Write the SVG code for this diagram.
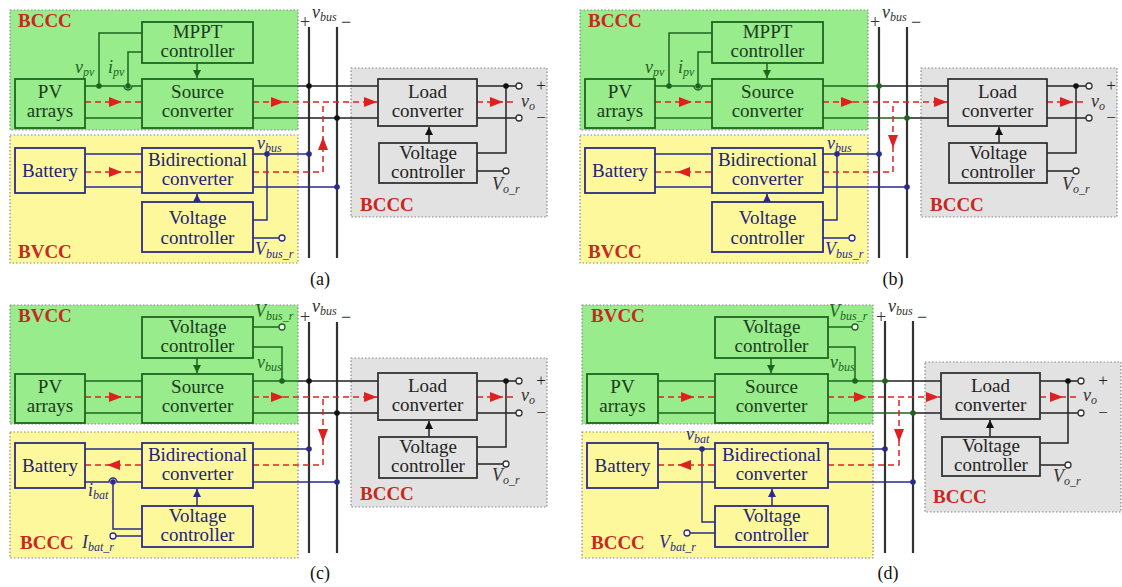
<svg xmlns="http://www.w3.org/2000/svg" xmlns:xlink="http://www.w3.org/1999/xlink" width="1122" height="587" viewBox="0 0 1122 587">
<style>
.rgg{fill:#98ec8c;stroke:#888;stroke-width:1.2;stroke-dasharray:1.5 2}
.rgy{fill:#fdf89c;stroke:#888;stroke-width:1.2;stroke-dasharray:1.5 2}
.rgk{fill:#e2e2e2;stroke:#888;stroke-width:1.2;stroke-dasharray:1.5 2}
.bxg{fill:#98ec8c;stroke:#1e641e;stroke-width:1.8}
.bxb{fill:#fdf89c;stroke:#2a2a8a;stroke-width:1.8}
.bxk{fill:#e2e2e2;stroke:#333;stroke-width:1.8}
.bt{font-family:"Liberation Serif","Times New Roman",serif;font-size:19px;text-anchor:middle}
.tg{fill:#1a3a1a}.tb{fill:#22227a}.tk{fill:#222}
.wg{fill:none;stroke:#1e641e;stroke-width:1.5}
.wb{fill:none;stroke:#2a2a8a;stroke-width:1.5}
.wk{fill:none;stroke:#222;stroke-width:1.5}
.bus{fill:none;stroke:#333;stroke-width:2.2}
.fl{fill:none;stroke:#e02020;stroke-width:1.5;stroke-dasharray:6 4}
.dg{fill:#1e641e}.db{fill:#2a2a8a}.dk{fill:#111}
.term{fill:#fff;stroke:#333;stroke-width:1.3}
.termb{fill:#fff;stroke:#2a2a8a;stroke-width:1.3}
.termg{fill:#fff;stroke:#1e641e;stroke-width:1.3}
.it{font-family:"Liberation Serif","Times New Roman",serif;font-style:italic;font-size:18px}
.sub{font-size:12px}
.lg{fill:#1e641e}.lb{fill:#2a2a8a}.lk{fill:#333}
.rl{font-family:"Liberation Serif","Times New Roman",serif;font-weight:bold;font-size:19px;fill:#c8281e}
.pm{font-family:"Liberation Serif","Times New Roman",serif;font-size:18px;fill:#333;text-anchor:middle}
.pmo{font-family:"Liberation Serif","Times New Roman",serif;font-size:17px;fill:#222;text-anchor:middle}
.pl{font-family:"Liberation Serif","Times New Roman",serif;font-size:18px;fill:#111;text-anchor:middle}
</style>
<defs>
<marker id="mg" viewBox="0 0 10 10" refX="10" refY="5" markerWidth="8" markerHeight="8" markerUnits="userSpaceOnUse" orient="auto"><path d="M0,0 L10,5 L0,10 z" fill="#1e641e"/></marker>
<marker id="mb" viewBox="0 0 10 10" refX="10" refY="5" markerWidth="8" markerHeight="8" markerUnits="userSpaceOnUse" orient="auto"><path d="M0,0 L10,5 L0,10 z" fill="#2a2a8a"/></marker>
<marker id="mk" viewBox="0 0 10 10" refX="10" refY="5" markerWidth="8" markerHeight="8" markerUnits="userSpaceOnUse" orient="auto"><path d="M0,0 L10,5 L0,10 z" fill="#111"/></marker>
<path id="ra" d="M0,0 L-13,-5 L-13,5 z" fill="#e02020"/>
</defs>

<!-- ===================== PANEL (a) ===================== -->
<g id="panel-a">
  <g id="a-regions">
    <rect class="rgg" x="10" y="10" width="288" height="120"/>
    <rect class="rgy" x="10" y="135" width="288" height="128"/>
    <rect class="rgk" x="351" y="68" width="196" height="149"/>
    <text class="rl" x="18" y="27">BCCC</text>
    <text class="rl" x="18" y="258">BVCC</text>
    <text class="rl" x="360" y="211">BCCC</text>
  </g>
  <g id="a-connectors">
    <path class="bus" d="M309 27 V258 M337 27 V258"/>
    <path class="wg" d="M85 86 H124 A4 4 0 0 0 132 86 H142 M99 86 V33 H142 M128 86 V52 H142 M85 118 H142 M253 86 H298 M253 118 H298"/>
    <path class="wk" d="M298 86 H378 M298 118 H378"/>
    <path class="wg" d="M197 63 V78" marker-end="url(#mg)"/>
    <path class="wb" d="M85 154 H142 M85 187 H142 M253 154 H309 M267 154 V220 H253 M253 187 H337 M253 238 H279"/>
    <path class="wb" d="M197 202 V194" marker-end="url(#mb)"/>
    <path class="wk" d="M477 86 H516 M477 118 H516 M506 86 V153 H477 M477 171 H503"/>
    <path class="wk" d="M429 143 V127" marker-end="url(#mk)"/>
    <circle class="dg" cx="99" cy="86" r="2.8"/><circle class="dg" cx="128" cy="86" r="2.8"/>
    <circle class="dk" cx="309" cy="86" r="2.8"/><circle class="dk" cx="337" cy="118" r="2.8"/>
    <circle class="db" cx="267" cy="154" r="2.8"/><circle class="db" cx="309" cy="154" r="2.8"/><circle class="db" cx="337" cy="187" r="2.8"/>
    <circle class="dk" cx="506" cy="86" r="2.8"/>
    <circle class="termb" cx="282" cy="238" r="3"/>
    <circle class="term" cx="519" cy="86" r="3"/><circle class="term" cx="519" cy="118" r="3"/><circle class="term" cx="506" cy="171" r="3"/>
    <path class="fl" d="M85 102 H142 M253 102 H378 M477 102 H517 M85 172 H142 M253 172 H323 V103"/>
    <use xlink:href="#ra" transform="translate(122,102)"/>
    <use xlink:href="#ra" transform="translate(284,102)"/>
    <use xlink:href="#ra" transform="translate(377,102)"/>
    <use xlink:href="#ra" transform="translate(503,102)"/>
    <use xlink:href="#ra" transform="translate(122,172)"/>
    <use xlink:href="#ra" transform="translate(323,137) rotate(-90)"/>
  </g>
  <g id="a-mppt"><rect class="bxg" x="142" y="22" width="111" height="41"/><text class="bt tg" x="197.5" y="38">MPPT</text><text class="bt tg" x="197.5" y="57">controller</text></g>
  <g id="a-pv"><rect class="bxg" x="15" y="79" width="70" height="49"/><text class="bt tg" x="50" y="98">PV</text><text class="bt tg" x="50" y="117">arrays</text></g>
  <g id="a-source"><rect class="bxg" x="142" y="79" width="111" height="49"/><text class="bt tg" x="197.5" y="98">Source</text><text class="bt tg" x="197.5" y="117">converter</text></g>
  <g id="a-battery"><rect class="bxb" x="15" y="148" width="70" height="45"/><text class="bt tb" x="50" y="177">Battery</text></g>
  <g id="a-bidi"><rect class="bxb" x="142" y="148" width="111" height="45"/><text class="bt tb" x="197.5" y="166">Bidirectional</text><text class="bt tb" x="197.5" y="185">converter</text></g>
  <g id="a-vc-bat"><rect class="bxb" x="142" y="202" width="111" height="50"/><text class="bt tb" x="197.5" y="224">Voltage</text><text class="bt tb" x="197.5" y="244">controller</text></g>
  <g id="a-load"><rect class="bxk" x="378" y="79" width="99" height="47"/><text class="bt tk" x="427.5" y="98">Load</text><text class="bt tk" x="427.5" y="117">converter</text></g>
  <g id="a-vc-load"><rect class="bxk" x="379" y="143" width="98" height="40"/><text class="bt tk" x="428" y="159">Voltage</text><text class="bt tk" x="428" y="178">controller</text></g>
  <g id="a-labels">
    <text class="it lg" x="75" y="73">v<tspan class="sub" dy="3">pv</tspan></text>
    <text class="it lg" x="108" y="73">i<tspan class="sub" dy="3">pv</tspan></text>
    <text class="it lb" x="257" y="149">v<tspan class="sub" dy="3">bus</tspan></text>
    <text class="it lb" x="255" y="255">V<tspan class="sub" dy="3">bus_r</tspan></text>
    <text class="pm" x="305" y="28">+</text>
    <text class="it lk" x="312" y="18">v<tspan class="sub" dy="3">bus</tspan></text>
    <text class="pm" x="346" y="28">−</text>
    <text class="pmo" x="541" y="91">+</text>
    <text class="it lk" x="521" y="107">v<tspan class="sub" dy="3">o</tspan></text>
    <text class="pmo" x="541" y="123">−</text>
    <text class="it lk" x="492" y="190">V<tspan class="sub" dy="3">o_r</tspan></text>
    <text class="pl" x="320" y="285">(a)</text>
  </g>
</g>

<!-- ===================== PANEL (b) ===================== -->
<g id="panel-b" transform="translate(570,0)">
  <g id="b-regions">
    <rect class="rgg" x="10" y="10" width="288" height="120"/>
    <rect class="rgy" x="10" y="135" width="288" height="128"/>
    <rect class="rgk" x="351" y="68" width="196" height="149"/>
    <text class="rl" x="18" y="27">BCCC</text>
    <text class="rl" x="18" y="258">BVCC</text>
    <text class="rl" x="360" y="211">BCCC</text>
  </g>
  <g id="b-connectors">
    <path class="bus" d="M309 27 V258 M337 27 V258"/>
    <path class="wg" d="M85 86 H124 A4 4 0 0 0 132 86 H142 M99 86 V33 H142 M128 86 V52 H142 M85 118 H142 M253 86 H309 M253 118 H337"/>
    <path class="wk" d="M309 86 H378 M337 118 H378"/>
    <path class="wg" d="M197 63 V78" marker-end="url(#mg)"/>
    <path class="wb" d="M85 154 H142 M85 187 H142 M253 154 H309 M267 154 V220 H253 M253 187 H337 M253 238 H279"/>
    <path class="wb" d="M197 202 V194" marker-end="url(#mb)"/>
    <path class="wk" d="M477 86 H516 M477 118 H516 M506 86 V153 H477 M477 171 H503"/>
    <path class="wk" d="M429 143 V127" marker-end="url(#mk)"/>
    <circle class="dg" cx="99" cy="86" r="2.8"/><circle class="dg" cx="128" cy="86" r="2.8"/>
    <circle class="dg" cx="309" cy="86" r="2.8"/><circle class="dg" cx="337" cy="118" r="2.8"/>
    <circle class="db" cx="267" cy="154" r="2.8"/><circle class="db" cx="309" cy="154" r="2.8"/><circle class="db" cx="337" cy="187" r="2.8"/>
    <circle class="dk" cx="506" cy="86" r="2.8"/>
    <circle class="termb" cx="282" cy="238" r="3"/>
    <circle class="term" cx="519" cy="86" r="3"/><circle class="term" cx="519" cy="118" r="3"/><circle class="term" cx="506" cy="171" r="3"/>
    <path class="fl" d="M85 102 H142 M253 102 H378 M477 102 H517 M85 172 H142 M253 172 H323 V103"/>
    <use xlink:href="#ra" transform="translate(122,102)"/>
    <use xlink:href="#ra" transform="translate(284,102)"/>
    <use xlink:href="#ra" transform="translate(377,102)"/>
    <use xlink:href="#ra" transform="translate(503,102)"/>
    <use xlink:href="#ra" transform="translate(107,172) rotate(180)"/>
    <use xlink:href="#ra" transform="translate(323,148) rotate(90)"/>
  </g>
  <g id="b-mppt"><rect class="bxg" x="142" y="22" width="111" height="41"/><text class="bt tg" x="197.5" y="38">MPPT</text><text class="bt tg" x="197.5" y="57">controller</text></g>
  <g id="b-pv"><rect class="bxg" x="15" y="79" width="70" height="49"/><text class="bt tg" x="50" y="98">PV</text><text class="bt tg" x="50" y="117">arrays</text></g>
  <g id="b-source"><rect class="bxg" x="142" y="79" width="111" height="49"/><text class="bt tg" x="197.5" y="98">Source</text><text class="bt tg" x="197.5" y="117">converter</text></g>
  <g id="b-battery"><rect class="bxb" x="15" y="148" width="70" height="45"/><text class="bt tb" x="50" y="177">Battery</text></g>
  <g id="b-bidi"><rect class="bxb" x="142" y="148" width="111" height="45"/><text class="bt tb" x="197.5" y="166">Bidirectional</text><text class="bt tb" x="197.5" y="185">converter</text></g>
  <g id="b-vc-bat"><rect class="bxb" x="142" y="202" width="111" height="50"/><text class="bt tb" x="197.5" y="224">Voltage</text><text class="bt tb" x="197.5" y="244">controller</text></g>
  <g id="b-load"><rect class="bxk" x="378" y="79" width="99" height="47"/><text class="bt tk" x="427.5" y="98">Load</text><text class="bt tk" x="427.5" y="117">converter</text></g>
  <g id="b-vc-load"><rect class="bxk" x="379" y="143" width="98" height="40"/><text class="bt tk" x="428" y="159">Voltage</text><text class="bt tk" x="428" y="178">controller</text></g>
  <g id="b-labels">
    <text class="it lg" x="75" y="73">v<tspan class="sub" dy="3">pv</tspan></text>
    <text class="it lg" x="108" y="73">i<tspan class="sub" dy="3">pv</tspan></text>
    <text class="it lb" x="257" y="149">v<tspan class="sub" dy="3">bus</tspan></text>
    <text class="it lb" x="255" y="255">V<tspan class="sub" dy="3">bus_r</tspan></text>
    <text class="pm" x="305" y="28">+</text>
    <text class="it lk" x="312" y="18">v<tspan class="sub" dy="3">bus</tspan></text>
    <text class="pm" x="346" y="28">−</text>
    <text class="pmo" x="541" y="91">+</text>
    <text class="it lk" x="521" y="107">v<tspan class="sub" dy="3">o</tspan></text>
    <text class="pmo" x="541" y="123">−</text>
    <text class="it lk" x="492" y="190">V<tspan class="sub" dy="3">o_r</tspan></text>
    <text class="pl" x="323" y="285">(b)</text>
  </g>
</g>

<!-- ===================== PANEL (c) ===================== -->
<g id="panel-c" transform="translate(0,295)">
  <g id="c-regions">
    <rect class="rgg" x="10" y="10" width="288" height="119"/>
    <rect class="rgy" x="10" y="137" width="288" height="126"/>
    <rect class="rgk" x="351" y="63" width="196" height="149"/>
    <text class="rl" x="18" y="27">BVCC</text>
    <text class="rl" x="20" y="254">BCCC</text>
    <text class="rl" x="360" y="205">BCCC</text>
  </g>
  <g id="c-connectors">
    <path class="bus" d="M309 27 V258 M337 27 V258"/>
    <path class="wg" d="M85 86 H142 M85 118 H142 M253 86 H298 M253 118 H298 M253 32 H279 M253 52 H282 V86"/>
    <path class="wk" d="M298 86 H378 M298 118 H378"/>
    <path class="wg" d="M197 63 V78" marker-end="url(#mg)"/>
    <path class="wb" d="M85 154 H142 M85 187 H109 A4 4 0 0 1 117 187 H142 M113 187 V234 H142 M116 241 H142 M253 154 H309 M253 187 H337"/>
    <path class="wb" d="M197 211 V194" marker-end="url(#mb)"/>
    <path class="wk" d="M477 86 H516 M477 118 H516 M506 86 V152 H477 M477 169 H503"/>
    <path class="wk" d="M429 142 V126" marker-end="url(#mk)"/>
    <circle class="dg" cx="282" cy="86" r="2.8"/>
    <circle class="dk" cx="309" cy="86" r="2.8"/><circle class="dk" cx="337" cy="118" r="2.8"/>
    <circle class="db" cx="113" cy="187" r="2.8"/><circle class="db" cx="309" cy="154" r="2.8"/><circle class="db" cx="337" cy="187" r="2.8"/>
    <circle class="dk" cx="506" cy="86" r="2.8"/>
    <circle class="termg" cx="282" cy="32" r="3"/>
    <circle class="termb" cx="113" cy="241" r="3"/>
    <circle class="term" cx="519" cy="86" r="3"/><circle class="term" cx="519" cy="118" r="3"/><circle class="term" cx="506" cy="169" r="3"/>
    <path class="fl" d="M85 102 H142 M253 102 H378 M477 102 H517 M85 170 H142 M253 170 H323 V103"/>
    <use xlink:href="#ra" transform="translate(122,102)"/>
    <use xlink:href="#ra" transform="translate(284,102)"/>
    <use xlink:href="#ra" transform="translate(377,102)"/>
    <use xlink:href="#ra" transform="translate(503,102)"/>
    <use xlink:href="#ra" transform="translate(107,170) rotate(180)"/>
    <use xlink:href="#ra" transform="translate(323,147) rotate(90)"/>
  </g>
  <g id="c-vc-src"><rect class="bxg" x="142" y="22" width="111" height="41"/><text class="bt tg" x="197.5" y="38">Voltage</text><text class="bt tg" x="197.5" y="57">controller</text></g>
  <g id="c-pv"><rect class="bxg" x="15" y="79" width="70" height="49"/><text class="bt tg" x="50" y="98">PV</text><text class="bt tg" x="50" y="117">arrays</text></g>
  <g id="c-source"><rect class="bxg" x="142" y="79" width="111" height="49"/><text class="bt tg" x="197.5" y="98">Source</text><text class="bt tg" x="197.5" y="117">converter</text></g>
  <g id="c-battery"><rect class="bxb" x="15" y="148" width="70" height="45"/><text class="bt tb" x="50" y="177">Battery</text></g>
  <g id="c-bidi"><rect class="bxb" x="142" y="148" width="111" height="45"/><text class="bt tb" x="197.5" y="166">Bidirectional</text><text class="bt tb" x="197.5" y="185">converter</text></g>
  <g id="c-vc-bat"><rect class="bxb" x="142" y="211" width="111" height="41"/><text class="bt tb" x="197.5" y="227">Voltage</text><text class="bt tb" x="197.5" y="246">controller</text></g>
  <g id="c-load"><rect class="bxk" x="378" y="78" width="99" height="47"/><text class="bt tk" x="427.5" y="97">Load</text><text class="bt tk" x="427.5" y="116">converter</text></g>
  <g id="c-vc-load"><rect class="bxk" x="379" y="142" width="98" height="41"/><text class="bt tk" x="428" y="158">Voltage</text><text class="bt tk" x="428" y="177">controller</text></g>
  <g id="c-labels">
    <text class="it lg" x="255" y="22">V<tspan class="sub" dy="3">bus_r</tspan></text>
    <text class="it lg" x="257" y="73">v<tspan class="sub" dy="3">bus</tspan></text>
    <text class="it lb" x="88" y="201">i<tspan class="sub" dy="3">bat</tspan></text>
    <text class="it lb" x="82" y="253">I<tspan class="sub" dy="3">bat_r</tspan></text>
    <text class="pm" x="305" y="28">+</text>
    <text class="it lk" x="312" y="17">v<tspan class="sub" dy="3">bus</tspan></text>
    <text class="pm" x="346" y="28">−</text>
    <text class="pmo" x="541" y="91">+</text>
    <text class="it lk" x="521" y="106">v<tspan class="sub" dy="3">o</tspan></text>
    <text class="pmo" x="541" y="123">−</text>
    <text class="it lk" x="492" y="186">V<tspan class="sub" dy="3">o_r</tspan></text>
    <text class="pl" x="320" y="284">(c)</text>
  </g>
</g>

<!-- ===================== PANEL (d) ===================== -->
<g id="panel-d" transform="translate(573,295)">
  <g id="d-regions">
    <rect class="rgg" x="9" y="10" width="291" height="119"/>
    <rect class="rgy" x="9" y="137" width="291" height="126"/>
    <rect class="rgk" x="352" y="67" width="196" height="150"/>
    <text class="rl" x="18" y="27">BVCC</text>
    <text class="rl" x="18" y="254">BCCC</text>
    <text class="rl" x="360" y="208">BCCC</text>
  </g>
  <g id="d-connectors">
    <path class="bus" d="M312 26 V258 M340 26 V258"/>
    <path class="wg" d="M85 86 H142 M85 118 H142 M255 86 H312 M255 118 H340 M255 32 H279 M255 52 H282 V86"/>
    <path class="wk" d="M312 86 H368 M340 118 H368"/>
    <path class="wg" d="M198 63 V78" marker-end="url(#mg)"/>
    <path class="wb" d="M85 154 H142 M85 187 H142 M129 154 V227 H142 M117 238 H142 M255 154 H312 M255 187 H340"/>
    <path class="wb" d="M199 211 V194" marker-end="url(#mb)"/>
    <path class="wk" d="M467 86 H505 M467 118 H505 M495 86 V148 H467 M467 170 H492"/>
    <path class="wk" d="M417 142 V125" marker-end="url(#mk)"/>
    <circle class="dg" cx="282" cy="86" r="2.8"/>
    <circle class="dg" cx="312" cy="86" r="2.8"/><circle class="dg" cx="340" cy="118" r="2.8"/>
    <circle class="db" cx="129" cy="154" r="2.8"/><circle class="db" cx="312" cy="154" r="2.8"/><circle class="db" cx="340" cy="187" r="2.8"/>
    <circle class="dk" cx="495" cy="86" r="2.8"/>
    <circle class="termg" cx="282" cy="32" r="3"/>
    <circle class="termb" cx="114" cy="238" r="3"/>
    <circle class="term" cx="508" cy="86" r="3"/><circle class="term" cx="508" cy="118" r="3"/><circle class="term" cx="495" cy="170" r="3"/>
    <path class="fl" d="M85 102 H142 M255 102 H368 M467 102 H506 M85 170 H142 M255 170 H326 V103"/>
    <use xlink:href="#ra" transform="translate(121,102)"/>
    <use xlink:href="#ra" transform="translate(294,102)"/>
    <use xlink:href="#ra" transform="translate(366,102)"/>
    <use xlink:href="#ra" transform="translate(490,102)"/>
    <use xlink:href="#ra" transform="translate(105,170) rotate(180)"/>
    <use xlink:href="#ra" transform="translate(326,147) rotate(90)"/>
  </g>
  <g id="d-vc-src"><rect class="bxg" x="142" y="22" width="113" height="41"/><text class="bt tg" x="198.5" y="38">Voltage</text><text class="bt tg" x="198.5" y="57">controller</text></g>
  <g id="d-pv"><rect class="bxg" x="14" y="79" width="71" height="49"/><text class="bt tg" x="49.5" y="98">PV</text><text class="bt tg" x="49.5" y="117">arrays</text></g>
  <g id="d-source"><rect class="bxg" x="142" y="79" width="113" height="49"/><text class="bt tg" x="198.5" y="98">Source</text><text class="bt tg" x="198.5" y="117">converter</text></g>
  <g id="d-battery"><rect class="bxb" x="14" y="148" width="71" height="45"/><text class="bt tb" x="49.5" y="177">Battery</text></g>
  <g id="d-bidi"><rect class="bxb" x="142" y="148" width="113" height="45"/><text class="bt tb" x="198.5" y="166">Bidirectional</text><text class="bt tb" x="198.5" y="185">converter</text></g>
  <g id="d-vc-bat"><rect class="bxb" x="142" y="211" width="113" height="41"/><text class="bt tb" x="198.5" y="227">Voltage</text><text class="bt tb" x="198.5" y="246">controller</text></g>
  <g id="d-load"><rect class="bxk" x="368" y="78" width="99" height="46"/><text class="bt tk" x="417.5" y="97">Load</text><text class="bt tk" x="417.5" y="116">converter</text></g>
  <g id="d-vc-load"><rect class="bxk" x="369" y="142" width="98" height="39"/><text class="bt tk" x="418" y="157">Voltage</text><text class="bt tk" x="418" y="176">controller</text></g>
  <g id="d-labels">
    <text class="it lg" x="256" y="22">V<tspan class="sub" dy="3">bus_r</tspan></text>
    <text class="it lg" x="257" y="73">v<tspan class="sub" dy="3">bus</tspan></text>
    <text class="it lb" x="113" y="145">v<tspan class="sub" dy="3">bat</tspan></text>
    <text class="it lb" x="86" y="253">V<tspan class="sub" dy="3">bat_r</tspan></text>
    <text class="pm" x="308" y="28">+</text>
    <text class="it lk" x="315" y="17">v<tspan class="sub" dy="3">bus</tspan></text>
    <text class="pm" x="349" y="28">−</text>
    <text class="pmo" x="530" y="91">+</text>
    <text class="it lk" x="510" y="106">v<tspan class="sub" dy="3">o</tspan></text>
    <text class="pmo" x="530" y="123">−</text>
    <text class="it lk" x="480" y="187">V<tspan class="sub" dy="3">o_r</tspan></text>
    <text class="pl" x="315" y="284">(d)</text>
  </g>
</g>
</svg>
